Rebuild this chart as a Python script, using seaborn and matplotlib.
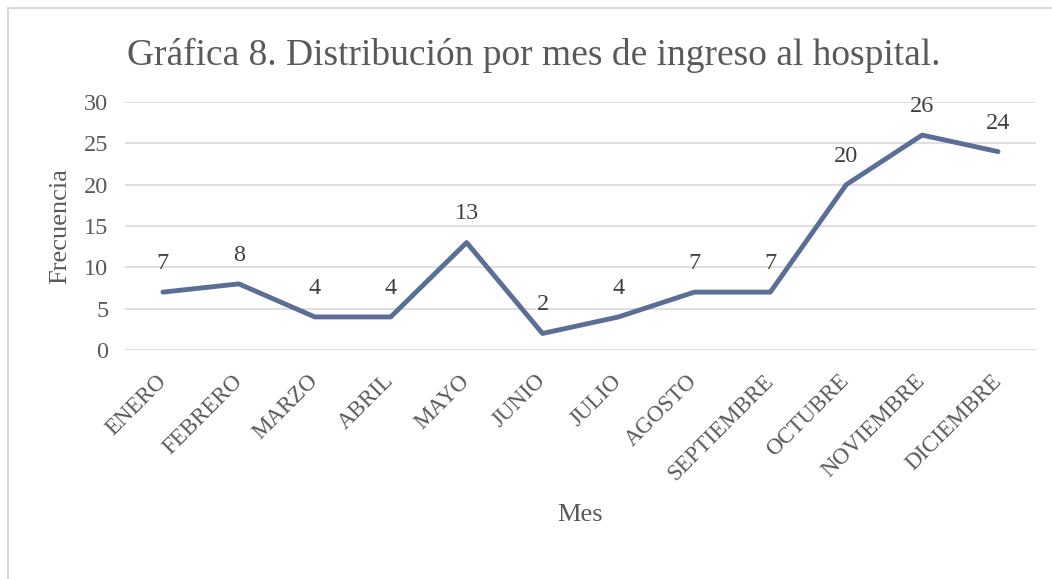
import pandas as pd
import seaborn as sns
import matplotlib.pyplot as plt
from matplotlib.lines import Line2D

meses = ['ENERO', 'FEBRERO', 'MARZO', 'ABRIL', 'MAYO', 'JUNIO', 'JULIO',
         'AGOSTO', 'SEPTIEMBRE', 'OCTUBRE', 'NOVIEMBRE', 'DICIEMBRE']
frecuencia = [7, 8, 4, 4, 13, 2, 4, 7, 7, 20, 26, 24]
yticks = [0, 5, 10, 15, 20, 25, 30]

df = pd.DataFrame({'Mes': meses, 'Frecuencia': frecuencia})

sns.set_style('white')
plt.rcParams['font.family'] = ['Liberation Serif', 'DejaVu Serif']
gris = '#595959'

fig = plt.figure(figsize=(10.52, 5.79), dpi=100)
ax = fig.add_axes([0.1188, 0.3955, 0.866, 0.4283])

sns.lineplot(data=df, x='Mes', y='Frecuencia', sort=False, ax=ax,
             color='#5A6E96', linewidth=3.5, solid_joinstyle='round')

for i, v in enumerate(frecuencia):
    ax.annotate(str(v), (i, v), xytext=(0, 13), textcoords='offset points',
                ha='center', va='bottom', fontsize=17.5, color='#404040')

ax.set_xlim(-0.5, len(meses) - 0.5)
ax.set_ylim(0, 30)
ax.set_yticks(yticks)
ax.yaxis.grid(True, color='#D9D9D9', linewidth=1.2)
ax.xaxis.grid(False)
for s in ax.spines.values():
    s.set_visible(False)
ax.tick_params(axis='both', length=0, labelcolor=gris)
ax.tick_params(axis='y', pad=12, labelsize=17.5)
ax.set_xticks(range(len(meses)))
ax.set_xticklabels(meses, rotation=45, ha='right', va='center',
                   rotation_mode='anchor', fontsize=16.5)
ax.tick_params(axis='x', pad=20)

ax.set_xlabel('Mes', fontsize=19, color=gris)
ax.xaxis.set_label_coords(0.4995, -0.62)
ax.set_ylabel('Frecuencia', fontsize=19, color=gris)
ax.yaxis.set_label_coords(-0.059, 0.5)

fig.text(0.507, 0.905, 'Gráfica 8. Distribución por mes de ingreso al hospital.',
         ha='center', va='center', fontsize=27, color=gris)

# borde del área del gráfico
fig.add_artist(Line2D([0.0076, 1.0], [0.986, 0.986], color='#D9D9D9', linewidth=1.5))
fig.add_artist(Line2D([0.0076, 0.0076], [0.0, 0.986], color='#D9D9D9', linewidth=1.5))

fig.savefig('out.png', dpi=100)
plt.close(fig)
